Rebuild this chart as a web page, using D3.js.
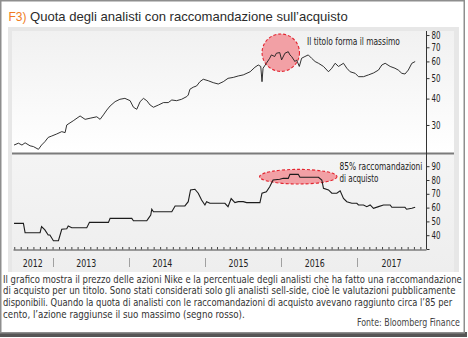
<!DOCTYPE html>
<html><head><meta charset="utf-8">
<script src="https://cdn.jsdelivr.net/npm/d3@7"></script>
<style>
body{margin:0;background:#fff}
svg{display:block}
.cn{font-family:"Liberation Sans Narrow","DejaVu Sans Condensed","Arial Narrow","Roboto Condensed",sans-serif}
.rg{font-family:"Liberation Sans",Arial,"DejaVu Sans",sans-serif}
</style>
</head><body>
<svg id="c" width="468" height="338"></svg>
<script>
// ---- data ----
const priceDates = ["2012-06-30","2012-07-21","2012-08-07","2012-08-22","2012-09-15","2012-10-01","2012-10-25","2012-11-09","2012-11-25","2012-12-11","2012-12-28",
"2013-01-21","2013-02-14","2013-03-02","2013-03-10","2013-04-10","2013-05-13","2013-06-06","2013-06-30","2013-08-01","2013-08-17","2013-09-02","2013-09-18","2013-10-04","2013-10-28","2013-11-20","2013-12-14",
"2014-01-08","2014-01-24","2014-02-09","2014-02-25","2014-03-13","2014-03-29","2014-04-14","2014-04-30","2014-05-24","2014-06-17","2014-07-10","2014-07-27","2014-08-19","2014-09-12","2014-10-07","2014-10-14","2014-10-22","2014-11-07","2014-11-23","2014-12-09","2014-12-25",
"2015-01-18","2015-02-11","2015-03-07","2015-03-31","2015-04-23","2015-05-18","2015-06-11","2015-07-05","2015-08-07","2015-08-30","2015-09-15","2015-09-27","2015-10-03","2015-10-08","2015-10-24","2015-11-09","2015-11-17","2015-12-03","2015-12-11","2015-12-27",
"2016-01-05","2016-01-21","2016-02-06","2016-02-14","2016-02-22","2016-03-09","2016-03-17","2016-03-30","2016-04-10","2016-04-26","2016-05-12","2016-05-28","2016-06-14","2016-06-30","2016-07-24","2016-08-17","2016-09-02","2016-09-18","2016-10-04","2016-10-28","2016-11-13","2016-11-29","2016-12-23",
"2017-01-08","2017-02-01","2017-02-25","2017-03-21","2017-04-14","2017-04-30","2017-05-16","2017-06-09","2017-07-02","2017-07-18","2017-08-04","2017-08-19","2017-09-04","2017-09-21","2017-10-07"];
const priceValues = [24.1,24.6,24.1,24.7,23.9,23.7,23.0,24.1,25.0,26.2,26.6,
27.2,27.9,27.6,30.0,31.4,33.1,31.9,32.3,32.8,31.9,33.5,35.3,36.9,38.7,39.7,40.1,
39.1,36.4,35.6,38.7,40.1,39.1,37.3,36.4,37.3,38.3,38.3,39.4,39.1,39.7,40.9,41.6,44.3,45.3,45.9,48.1,49.4,
48.6,47.6,46.9,48.1,49.9,50.4,51.2,51.8,53.6,56.3,57.7,56.8,48.1,55.7,58.8,62.1,64.4,63.3,65.6,66.1,
61.0,65.6,66.7,64.4,63.3,59.9,61.0,56.8,62.1,63.3,64.4,62.1,59.9,58.8,56.8,53.6,55.7,58.8,56.8,58.8,55.7,53.6,52.7,
50.8,50.8,51.8,52.9,54.6,57.7,58.8,56.8,55.7,54.6,52.7,52.3,54.6,58.8,59.9];

const buyDates = ["2012-06-30","2012-08-14","2012-08-22","2012-11-02","2012-11-09","2012-11-25","2012-12-11","2012-12-19",
"2013-01-05","2013-01-29","2013-02-14","2013-03-10","2013-03-17","2013-04-03","2013-06-14","2013-06-27","2013-09-26","2013-10-04",
"2014-01-16","2014-01-24","2014-03-29","2014-04-06","2014-04-17","2014-04-22","2014-04-30","2014-07-27","2014-08-12","2014-09-28","2014-10-14","2014-10-25","2014-11-15","2014-12-01","2014-12-17",
"2015-01-02","2015-01-10","2015-01-26","2015-04-08","2015-04-23","2015-05-08","2015-05-26","2015-06-11","2015-07-05","2015-07-21","2015-09-23","2015-10-03","2015-10-24","2015-11-09","2015-11-25","2015-12-27",
"2016-01-13","2016-02-06","2016-02-14","2016-03-25","2016-04-02","2016-06-30","2016-07-16","2016-07-24","2016-08-17","2016-09-02","2016-09-26","2016-10-12","2016-10-28","2016-11-13","2016-12-07","2016-12-31",
"2017-01-08","2017-02-01","2017-02-17","2017-03-05","2017-03-21","2017-04-14","2017-05-08","2017-06-09","2017-06-17","2017-08-19","2017-08-27","2017-09-21","2017-10-07"];
const buyValues = [48.6,48.6,41.8,41.8,46.2,43.8,40.1,40.1,
36.0,36.0,44.3,44.7,46.7,45.4,45.4,49.3,49.3,52.2,
52.2,50.5,50.5,52.2,54.6,58.8,57.0,57.0,61.2,61.2,64.3,72.8,73.3,70.4,65.5,
61.9,64.3,63.1,63.1,60.7,66.5,63.6,64.3,64.3,63.6,63.6,70.4,71.5,75.1,80.0,80.5,
81.2,81.2,84.1,84.1,82.0,82.0,80.0,74.0,72.8,70.4,70.4,72.2,66.7,64.3,63.1,63.1,
61.9,61.9,60.7,61.9,59.5,60.7,61.9,61.9,60.2,60.2,58.8,59.5,60.2];

const priceTicks = [30,40,50,60,70,80];
const buyTicks = [40,50,60,70,80,90];
const yearLabels = ["2012","2013","2014","2015","2016","2017"];
const titleCode = "F3)";
const titleText = "Quota degli analisti con raccomandazione sull\u2019acquisto";
const noteTop = "Il titolo forma il massimo";
const noteBottom = ["85% raccomandazioni","di acquisto"];
const captionLines = [
 "Il grafico mostra il prezzo delle azioni Nike e la percentuale degli analisti che ha fatto una raccomandazione",
 "di acquisto per un titolo. Sono stati considerati solo gli analisti sell-side, cio\u00e8 le valutazioni pubblicamente",
 "disponibili. Quando la quota di analisti con le raccomandazioni di acquisto avevano raggiunto circa l\u201985 per",
 "cento, l\u2019azione raggiunse il suo massimo (segno rosso)."];
const source = "Fonte: Bloomberg Finance";
// annotation anchors (date, value)
const peakMark = {date:"2016-01-01", value:66.0};
const buyMark = {date:"2016-03-25", value:82.4};

// ---- drawing ----
const parse = d3.timeParse("%Y-%m-%d");
const price = priceDates.map((d,i)=>({date:parse(d), v:priceValues[i]}));
const buy = buyDates.map((d,i)=>({date:parse(d), v:buyValues[i]}));

const svg = d3.select("#c");
const x = d3.scaleTime().domain([new Date(2012,5,25), new Date(2017,10,28)]).range([13,426]);
const yP = d3.scaleLog().domain([22.1, 82.7]).range([153, 32]);
const yB = d3.scaleLinear().domain([30, 100]).range([249, 152.4]);

// narrow text: measure the natural width, then squeeze horizontally with a transform
function ntext(sel, str, px, py, size, width, anchor, cls, fill){
  const g = sel.append("g");
  const t = g.append("text").attr("class", cls || "cn").attr("font-size", size)
    .attr("fill", fill || "#222").text(str);
  const w = t.node().getComputedTextLength();
  const sx = width ? width / w : 1;
  const left = anchor === "middle" ? px - width/2 : anchor === "end" ? px - width : px;
  g.attr("transform", `translate(${left},${py}) scale(${sx},1)`);
  return t;
}

const defs = svg.append("defs");
const g1 = defs.append("linearGradient").attr("id","gTop").attr("x1",0).attr("y1",0).attr("x2",0).attr("y2",1);
g1.append("stop").attr("offset","0%").attr("stop-color","#f1f1f1");
g1.append("stop").attr("offset","100%").attr("stop-color","#ffffff");
const g2 = defs.append("linearGradient").attr("id","gBot").attr("x1",0).attr("y1",0).attr("x2",0).attr("y2",1);
g2.append("stop").attr("offset","0%").attr("stop-color","#f4f4f4");
g2.append("stop").attr("offset","100%").attr("stop-color","#eeeeee");

// frame
svg.append("rect").attr("x",0).attr("y",332).attr("width",467).attr("height",5).attr("fill","#555");
svg.append("rect").attr("x",0.75).attr("y",0.75).attr("width",463.5).attr("height",332).attr("fill","#fff").attr("stroke","#8e8e8e").attr("stroke-width",1.5);

// title
ntext(svg, titleCode, 8.5, 21, 13, 18, null, "rg", "#f07b22");
ntext(svg, titleText, 30, 21, 13, 318, null, "rg", "#2b2b2b");

// chart panel
svg.append("rect").attr("x",8).attr("y",27).attr("width",451).attr("height",245).attr("fill","#e7e7e7");
svg.append("rect").attr("x",12).attr("y",31).attr("width",442).attr("height",122).attr("fill","url(#gTop)");
svg.append("rect").attr("x",12).attr("y",154).attr("width",442).attr("height",118).attr("fill","url(#gBot)");

// annotation shapes (under the lines)
svg.append("circle").attr("cx",x(parse(peakMark.date))).attr("cy",yP(peakMark.value)).attr("r",18.7)
  .attr("fill","#f2a0a5").attr("stroke","#e3242f").attr("stroke-width",1.1).attr("stroke-dasharray","3,2");
svg.append("ellipse").attr("cx",x(parse(buyMark.date))).attr("cy",yB(buyMark.value)).attr("rx",38.7).attr("ry",7.3)
  .attr("fill","#f2a0a5").attr("stroke","#e3242f").attr("stroke-width",1.1).attr("stroke-dasharray","3,2");

// separator
svg.append("line").attr("x1",12).attr("x2",454).attr("y1",153.5).attr("y2",153.5).attr("stroke","#7b7b7b").attr("stroke-width",2);

// lines
svg.append("path").datum(price).attr("fill","none").attr("stroke","#1c1c1c").attr("stroke-width",0.9)
  .attr("d", d3.line().x(d=>x(d.date)).y(d=>yP(d.v)));
svg.append("path").datum(buy).attr("fill","none").attr("stroke","#1c1c1c").attr("stroke-width",1.1)
  .attr("d", d3.line().x(d=>x(d.date)).y(d=>yB(d.v)));

// right axes (ticks via d3 axis, labels squeezed to the narrow face)
function rightAxis(scale, values, labelled){
  const a = svg.append("g").attr("transform","translate(426.5,0)")
    .call(d3.axisRight(scale).tickValues(values).tickFormat("").tickSize(3).tickSizeOuter(0));
  a.select(".domain").remove();
  a.selectAll("line").attr("stroke","#333");
  labelled.forEach(v=> ntext(svg, String(v), 431.5, scale(v)+3.6, 10.5, 9));
}
rightAxis(yP, priceTicks, priceTicks);
rightAxis(yB, [30].concat(buyTicks), buyTicks);
svg.append("line").attr("x1",426.5).attr("x2",426.5).attr("y1",31).attr("y2",249).attr("stroke","#333").attr("stroke-width",1);

// bottom axis with monthly ticks
const axX = svg.append("g").attr("transform","translate(0,249.5)")
  .call(d3.axisBottom(x).ticks(d3.timeMonth.every(1)).tickSize(-2.5).tickSizeOuter(0).tickFormat(""));
axX.select(".domain").attr("stroke","#444");
axX.selectAll("line").attr("stroke","#444");

// year labels and separators
const d0 = x.domain()[0], d1 = x.domain()[1];
yearLabels.forEach(yl=>{
  const y = +yl;
  const s = new Date(y,0,1), e = new Date(y+1,0,1);
  let cx;
  if (s < d0) cx = (x(d0)+x(e))/2;
  else if (e > d1) cx = (x(s)+x(d1))/2;
  else cx = x(new Date(y,5,12));
  ntext(svg, yl, cx, 266.5, 10.5, 20, "middle");
  if (s > d0) svg.append("line").attr("x1",Math.round(x(s))+0.5).attr("x2",Math.round(x(s))+0.5)
    .attr("y1",258).attr("y2",267).attr("stroke","#a0a0a0").attr("stroke-width",1);
});

// annotation texts
ntext(svg, noteTop, 307, 45, 10.5, 93);
ntext(svg, noteBottom[0], 339.5, 170, 10.5, 83);
ntext(svg, noteBottom[1], 339.5, 181.6, 10.5, 39);

// caption
const capW = [459, 453, 450, 242];
captionLines.forEach((s,i)=> ntext(svg, s, 3, 282.5+i*11.7, 10.3, capW[i], null, "cn", "#333"));
ntext(svg, source, 460, 326, 10.3, 103, "end", "cn", "#444");
</script>
</body></html>
